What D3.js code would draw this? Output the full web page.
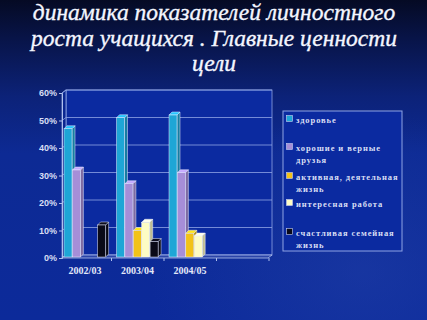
<!DOCTYPE html>
<html><head><meta charset="utf-8">
<script src="https://cdn.jsdelivr.net/npm/d3@7"></script>
<style>html,body{margin:0;padding:0;background:#0c2a96;}svg{display:block;}</style>
</head><body>
<script>
const titleLines = ["динамика показателей личностного", "роста учащихся . Главные ценности", "цели"];
const categories = ["2002/03", "2003/04", "2004/05", ""];
const seriesNames = ["здоровье", "хорошие и верные друзья", "активная, деятельная жизнь", "интересная работа", "счастливая семейная жизнь"];
const legendLines = [["здоровье"], ["хорошие и верные", "друзья"], ["активная, деятельная", "жизнь"], ["интересная работа"], ["счастливая семейная", "жизнь"]];
const seriesColors = ["#1ea6d6", "#a68ed8", "#f2c218", "#fdfcc4", "#0a0a18"];
const health   = [47, 51, 52, null];
const friends  = [32, 27, 31, null];
const active   = [null, 10, 9, null];
const work     = [null, 13, 8, null];
const family   = [12, 6, null, null];
const seriesValues = [health, friends, active, work, family];
const yTicks = [0, 10, 20, 30, 40, 50, 60];

const W = 427, H = 320;
const svg = d3.select("body").append("svg").attr("width", W).attr("height", H)
  .style("font-family", "'Liberation Serif', 'DejaVu Serif', serif");
const defs = svg.append("defs");
const bg = defs.append("linearGradient").attr("id", "bg").attr("x1", 0).attr("y1", 0).attr("x2", 0).attr("y2", 1);
[[0, "#050a24"], [0.12, "#081448"], [0.3, "#0c2278"], [0.48, "#0d2a94"], [1, "#0c2a9a"]]
  .forEach(([o, c]) => bg.append("stop").attr("offset", o).attr("stop-color", c));
svg.append("rect").attr("width", W).attr("height", H).attr("fill", "url(#bg)");
const glow = defs.append("radialGradient").attr("id", "glow").attr("cx", 0.85).attr("cy", 0.85).attr("r", 0.5);
glow.append("stop").attr("offset", 0).attr("stop-color", "#2a4ab0").attr("stop-opacity", 0.35);
glow.append("stop").attr("offset", 1).attr("stop-color", "#2a4ab0").attr("stop-opacity", 0);
svg.append("rect").attr("width", W).attr("height", H).attr("fill", "url(#glow)");

// title
svg.append("g").selectAll("text").data(titleLines).join("text")
  .attr("x", 214).attr("y", (d, i) => 20 + i * 25.5)
  .attr("text-anchor", "middle").attr("fill", "#f4f6ff")
  .attr("font-style", "italic").attr("font-weight", "normal").attr("font-size", 23.5)
  .attr("stroke", "#f4f6ff").attr("stroke-width", 0.35)
  .text(d => d);

// plot geometry
const pLeft = 62, pRight = 268, pBottom = 258, pTop = 93;
const dx = 4, dy = -3;
const y = d3.scaleLinear().domain([0, 60]).range([pBottom, pTop]);
const x0 = d3.scaleBand().domain(categories).range([59, 269]);
const x1 = d3.scaleBand().domain(d3.range(seriesNames.length)).range([5, 47]);

const g = svg.append("g");
// back wall
g.append("rect").attr("x", pLeft + dx).attr("y", pTop + dy).attr("width", pRight - pLeft).attr("height", pBottom - pTop)
  .attr("fill", "#0b2aa0").attr("stroke", "#8fa4e4").attr("stroke-width", 0.8);
// side wall
g.append("path").attr("d", `M${pLeft},${pTop}L${pLeft + dx},${pTop + dy}L${pLeft + dx},${pBottom + dy}L${pLeft},${pBottom}Z`)
  .attr("fill", "#0a2690").attr("stroke", "#8fa4e4").attr("stroke-width", 0.8);
// grid lines
g.selectAll(".grid").data(yTicks.slice(1)).join("line")
  .attr("x1", pLeft + dx).attr("x2", pRight + dx)
  .attr("y1", d => y(d) + dy).attr("y2", d => y(d) + dy)
  .attr("stroke", "#8fa4e4").attr("stroke-width", 0.8);
g.selectAll(".gridside").data(yTicks).join("line")
  .attr("x1", pLeft).attr("x2", pLeft + dx)
  .attr("y1", d => y(d)).attr("y2", d => y(d) + dy)
  .attr("stroke", "#8fa4e4").attr("stroke-width", 0.8);
// floor
g.append("path").attr("d", `M${pLeft},${pBottom}L${pLeft + dx},${pBottom + dy}L${pRight + dx},${pBottom + dy}L${pRight},${pBottom}Z`)
  .attr("fill", "#2a44a8").attr("stroke", "#b0c0ee").attr("stroke-width", 0.8);

// y axis
const yAxis = d3.axisLeft(y).tickValues(yTicks).tickFormat(d => d + "%").tickSize(3).tickPadding(2);
const ya = g.append("g").attr("transform", `translate(${pLeft},0)`).call(yAxis);
ya.select(".domain").attr("stroke", "#b0c0ee");
ya.selectAll(".tick line").attr("stroke", "#b0c0ee");
ya.selectAll(".tick text").attr("fill", "#d8def4").attr("font-size", 9).attr("font-weight", "bold");

// x axis ticks on floor edge
const xa = g.append("g").attr("transform", `translate(0,${pBottom})`);
xa.selectAll("line").data(categories).join("line")
  .attr("x1", d => x0(d) + x0.step()).attr("x2", d => x0(d) + x0.step())
  .attr("y1", 0).attr("y2", 3).attr("stroke", "#b0c0ee");
xa.selectAll("text").data(categories.filter(c => c)).join("text")
  .attr("x", d => x0(d) + x1(0) + (x1.range()[1] - x1.range()[0]) / 2)
  .attr("y", 16).attr("text-anchor", "middle").attr("fill", "#e4e8f8")
  .attr("font-size", 10).attr("font-weight", "bold").text(d => d);

// bars
const bars = [];
seriesValues.forEach((vals, s) => vals.forEach((v, c) => {
  if (v != null) bars.push({ s, c, v });
}));
const bd = 3; // bar depth offset
const bw = x1.bandwidth() - 0.4;
const bg2 = g.append("g");
bars.forEach(b => {
  const xx = x0(categories[b.c]) + x1(b.s);
  const yt = y(b.v), yb = y(0) - 1;
  const col = d3.color(seriesColors[b.s]);
  const grp = bg2.append("g");
  grp.append("path")
    .attr("d", `M${xx + bw},${yt}L${xx + bw + bd},${yt - bd}L${xx + bw + bd},${yb - bd}L${xx + bw},${yb}Z`)
    .attr("fill", col.darker(0.8)).attr("stroke", "#e8ecff").attr("stroke-width", 0.5);
  grp.append("path")
    .attr("d", `M${xx},${yt}L${xx + bd},${yt - bd}L${xx + bw + bd},${yt - bd}L${xx + bw},${yt}Z`)
    .attr("fill", col.brighter(0.5)).attr("stroke", "#e8ecff").attr("stroke-width", 0.5);
  grp.append("rect").attr("x", xx).attr("y", yt).attr("width", bw).attr("height", yb - yt)
    .attr("fill", col).attr("stroke", "#e8ecff").attr("stroke-width", 0.5);
});

// legend
const lg = svg.append("g");
lg.append("rect").attr("x", 283).attr("y", 111).attr("width", 119).attr("height", 140)
  .attr("fill", "#0b2aa0").attr("stroke", "#8fa4e4").attr("stroke-width", 1);
const itemY = [120, 148, 177, 204, 233];
legendLines.forEach((lines, i) => {
  lg.append("rect").attr("x", 286.5).attr("y", itemY[i] - 4.5).attr("width", 6).attr("height", 6)
    .attr("fill", seriesColors[i]).attr("stroke", "#c8d0f0").attr("stroke-width", 0.6);
  lines.forEach((t, j) => {
    lg.append("text").attr("x", 296).attr("y", itemY[i] + 2.5 + j * 12.5)
      .attr("fill", "#d8def4").attr("font-size", 8.5).attr("font-weight", "bold")
      .attr("letter-spacing", 0.9).text(t);
  });
});
</script>
</body></html>
